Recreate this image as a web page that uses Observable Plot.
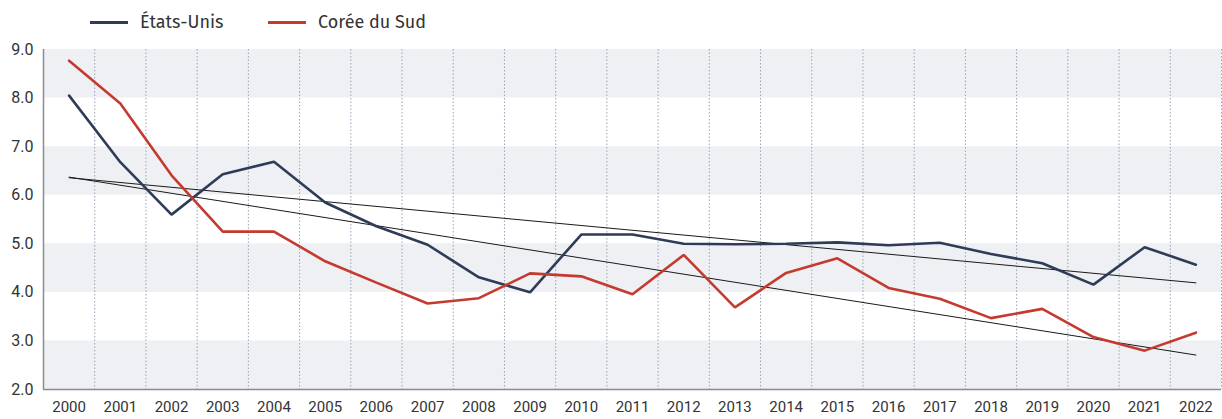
<!DOCTYPE html>
<html>
<head>
<meta charset="utf-8">
<script src="https://cdn.jsdelivr.net/npm/d3@7"></script>
<script src="https://cdn.jsdelivr.net/npm/@observablehq/plot@0.6"></script>
<style>
  html, body { margin: 0; padding: 0; background: #fff; }
  body { width: 1222px; height: 419px; overflow: hidden; font-family: "Fira Sans", Roboto, "Noto Sans", sans-serif; }
  #legend { position: relative; height: 40px; }
  .sw { position: absolute; top: 21px; height: 3px; width: 38px; }
  .lab { position: absolute; top: 10px; font-size: 18px; color: #333; line-height: 24px; }
  #chart svg { display: block; }
</style>
</head>
<body>
<div id="legend">
  <div class="sw" style="left:90px;background:#2e3c57"></div>
  <div class="lab" style="left:140px">États-Unis</div>
  <div class="sw" style="left:268px;background:#c53a2f"></div>
  <div class="lab" style="left:318px">Corée du Sud</div>
</div>
<div id="chart"></div>
<script>
const years = [2000,2001,2002,2003,2004,2005,2006,2007,2008,2009,2010,2011,2012,2013,2014,2015,2016,2017,2018,2019,2020,2021,2022];
const usValues = [8.05,6.68,5.60,6.43,6.69,5.85,5.36,4.98,4.31,4.00,5.19,5.19,5.00,4.99,5.00,5.03,4.97,5.02,4.79,4.60,4.16,4.93,4.57];
const krValues = [8.77,7.89,6.41,5.25,5.25,4.64,4.20,3.77,3.88,4.39,4.33,3.96,4.77,3.69,4.40,4.70,4.09,3.87,3.47,3.66,3.08,2.80,3.17];
const seriesNames = ["États-Unis", "Corée du Sud"];
const seriesColors = ["#2e3c57", "#c53a2f"];
const yTicks = [2,3,4,5,6,7,8,9];
const shadedBands = [[8,9],[6,7],[4,5],[2,3]];

const data = [
  ...years.map((yr, i) => ({year: yr, value: usValues[i], country: seriesNames[0]})),
  ...years.map((yr, i) => ({year: yr, value: krValues[i], country: seriesNames[1]}))
];
const separators = years.map(y => y + 0.5);

const chart = Plot.plot({
  width: 1222,
  height: 379,
  marginTop: 9,
  marginBottom: 30,
  marginLeft: 43,
  marginRight: 1,
  style: {fontFamily: "Roboto, 'Noto Sans', sans-serif", background: "#fff", color: "#333"},
  x: {type: "linear", domain: [years[0] - 0.5, years[years.length - 1] + 0.5]},
  y: {domain: [2, 9]},
  color: {domain: seriesNames, range: seriesColors},
  marks: [
    Plot.rect(shadedBands, {y1: d => d[0], y2: d => d[1], fill: "#eef0f4"}),
    Plot.ruleX(separators, {stroke: "#9aa3b5", strokeWidth: 1, strokeDasharray: "1.5,2"}),
    Plot.linearRegressionY(data, {x: "year", y: "value", z: "country", stroke: "#1a1a1a", strokeWidth: 1, ci: 0}),
    Plot.line(data, {x: "year", y: "value", z: "country", stroke: "country", strokeWidth: 2.6, strokeLinejoin: "miter"}),
    Plot.ruleY([2], {stroke: "#8c8c8c", strokeWidth: 1.5}),
    Plot.ruleX([years[0] - 0.5], {stroke: "#8c8c8c", strokeWidth: 1.5}),
    Plot.axisX({ticks: years, tickFormat: d => String(d), tickSize: 0, tickPadding: 12, fontSize: 15, label: null}),
    Plot.axisY({ticks: yTicks, tickFormat: d => d.toFixed(1), tickSize: 0, tickPadding: 10, fontSize: 16, label: null})
  ]
});
document.getElementById("chart").appendChild(chart);
</script>
</body>
</html>
